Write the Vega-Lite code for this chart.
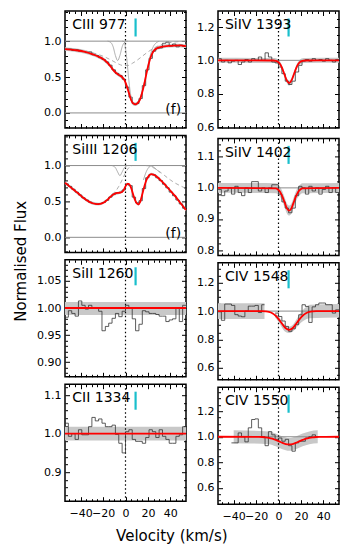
{
"$schema":"https://vega.github.io/schema/vega-lite/v6.json",
"padding":{"left":14,"top":9,"right":5,"bottom":5},
"config":{"view":{"stroke":"black","strokeWidth":1.5},"axis":{"domain":false,"grid":false,"labelFont":"DejaVu Sans","labelFontSize":11,"labelColor":"black","tickColor":"black","tickWidth":1,"labelOverlap":false,"labelFlush":false,"minExtent":0,"maxExtent":0}},
"datasets":{
"hist":[
{"p":"c3","v":-54,"y":0.885},{"p":"c3","v":-51,"y":0.89},{"p":"c3","v":-48,"y":0.87},{"p":"c3","v":-45,"y":0.88},{"p":"c3","v":-42,"y":0.86},{"p":"c3","v":-39,"y":0.855},{"p":"c3","v":-36,"y":0.84},{"p":"c3","v":-33,"y":0.85},{"p":"c3","v":-30,"y":0.81},{"p":"c3","v":-27,"y":0.8},{"p":"c3","v":-24,"y":0.77},{"p":"c3","v":-21,"y":0.745},{"p":"c3","v":-18,"y":0.71},{"p":"c3","v":-15,"y":0.665},{"p":"c3","v":-12,"y":0.6},{"p":"c3","v":-9,"y":0.55},{"p":"c3","v":-6,"y":0.52},{"p":"c3","v":-3,"y":0.47},{"p":"c3","v":0,"y":0.36},{"p":"c3","v":3,"y":0.22},{"p":"c3","v":6,"y":0.13},{"p":"c3","v":9,"y":0.13},{"p":"c3","v":12,"y":0.2},{"p":"c3","v":15,"y":0.38},{"p":"c3","v":18,"y":0.6},{"p":"c3","v":21,"y":0.76},{"p":"c3","v":24,"y":0.86},{"p":"c3","v":27,"y":0.9},{"p":"c3","v":30,"y":0.905},{"p":"c3","v":33,"y":0.97},{"p":"c3","v":36,"y":0.985},{"p":"c3","v":39,"y":0.93},{"p":"c3","v":42,"y":0.96},{"p":"c3","v":45,"y":0.92},{"p":"c3","v":48,"y":0.945},{"p":"c3","v":51,"y":0.925},{"p":"c3","v":54,"y":0.925},
{"p":"s4a","v":-54,"y":1.01},{"p":"s4a","v":-51,"y":0.99},{"p":"s4a","v":-48,"y":1.0},{"p":"s4a","v":-45,"y":0.985},{"p":"s4a","v":-42,"y":0.995},{"p":"s4a","v":-39,"y":1.0},{"p":"s4a","v":-36,"y":0.975},{"p":"s4a","v":-33,"y":0.99},{"p":"s4a","v":-30,"y":1.005},{"p":"s4a","v":-27,"y":0.99},{"p":"s4a","v":-24,"y":1.01},{"p":"s4a","v":-21,"y":1.0},{"p":"s4a","v":-18,"y":1.02},{"p":"s4a","v":-15,"y":1.0},{"p":"s4a","v":-12,"y":1.045},{"p":"s4a","v":-9,"y":1.02},{"p":"s4a","v":-6,"y":0.99},{"p":"s4a","v":-3,"y":0.985},{"p":"s4a","v":0,"y":0.96},{"p":"s4a","v":3,"y":0.92},{"p":"s4a","v":6,"y":0.875},{"p":"s4a","v":9,"y":0.855},{"p":"s4a","v":12,"y":0.875},{"p":"s4a","v":15,"y":0.93},{"p":"s4a","v":18,"y":0.97},{"p":"s4a","v":21,"y":0.995},{"p":"s4a","v":24,"y":1.005},{"p":"s4a","v":27,"y":0.995},{"p":"s4a","v":30,"y":1.01},{"p":"s4a","v":33,"y":1.0},{"p":"s4a","v":36,"y":1.005},{"p":"s4a","v":39,"y":0.995},{"p":"s4a","v":42,"y":1.01},{"p":"s4a","v":45,"y":1.0},{"p":"s4a","v":48,"y":0.99},{"p":"s4a","v":51,"y":1.005},{"p":"s4a","v":54,"y":1.005},
{"p":"s3","v":-54,"y":0.745},{"p":"s3","v":-51,"y":0.71},{"p":"s3","v":-48,"y":0.67},{"p":"s3","v":-45,"y":0.63},{"p":"s3","v":-42,"y":0.59},{"p":"s3","v":-39,"y":0.55},{"p":"s3","v":-36,"y":0.52},{"p":"s3","v":-33,"y":0.49},{"p":"s3","v":-30,"y":0.47},{"p":"s3","v":-27,"y":0.465},{"p":"s3","v":-24,"y":0.47},{"p":"s3","v":-21,"y":0.485},{"p":"s3","v":-18,"y":0.515},{"p":"s3","v":-15,"y":0.56},{"p":"s3","v":-12,"y":0.6},{"p":"s3","v":-9,"y":0.62},{"p":"s3","v":-6,"y":0.625},{"p":"s3","v":-3,"y":0.66},{"p":"s3","v":0,"y":0.735},{"p":"s3","v":3,"y":0.72},{"p":"s3","v":6,"y":0.56},{"p":"s3","v":9,"y":0.48},{"p":"s3","v":12,"y":0.51},{"p":"s3","v":15,"y":0.68},{"p":"s3","v":18,"y":0.83},{"p":"s3","v":21,"y":0.875},{"p":"s3","v":24,"y":0.87},{"p":"s3","v":27,"y":0.83},{"p":"s3","v":30,"y":0.79},{"p":"s3","v":33,"y":0.74},{"p":"s3","v":36,"y":0.69},{"p":"s3","v":39,"y":0.63},{"p":"s3","v":42,"y":0.58},{"p":"s3","v":45,"y":0.52},{"p":"s3","v":48,"y":0.465},{"p":"s3","v":51,"y":0.405},{"p":"s3","v":54,"y":0.405},
{"p":"s4b","v":-54,"y":0.995},{"p":"s4b","v":-51,"y":0.975},{"p":"s4b","v":-48,"y":0.99},{"p":"s4b","v":-45,"y":1.0},{"p":"s4b","v":-42,"y":0.98},{"p":"s4b","v":-39,"y":1.005},{"p":"s4b","v":-36,"y":0.985},{"p":"s4b","v":-33,"y":0.975},{"p":"s4b","v":-30,"y":1.0},{"p":"s4b","v":-27,"y":0.985},{"p":"s4b","v":-24,"y":1.02},{"p":"s4b","v":-21,"y":1.02},{"p":"s4b","v":-18,"y":0.99},{"p":"s4b","v":-15,"y":1.0},{"p":"s4b","v":-12,"y":0.985},{"p":"s4b","v":-9,"y":1.0},{"p":"s4b","v":-6,"y":1.01},{"p":"s4b","v":-3,"y":1.01},{"p":"s4b","v":0,"y":0.98},{"p":"s4b","v":3,"y":0.955},{"p":"s4b","v":6,"y":0.935},{"p":"s4b","v":9,"y":0.92},{"p":"s4b","v":12,"y":0.935},{"p":"s4b","v":15,"y":0.975},{"p":"s4b","v":18,"y":1.005},{"p":"s4b","v":21,"y":1.0},{"p":"s4b","v":24,"y":0.98},{"p":"s4b","v":27,"y":1.005},{"p":"s4b","v":30,"y":0.99},{"p":"s4b","v":33,"y":1.0},{"p":"s4b","v":36,"y":0.98},{"p":"s4b","v":39,"y":0.995},{"p":"s4b","v":42,"y":1.005},{"p":"s4b","v":45,"y":0.985},{"p":"s4b","v":48,"y":1.0},{"p":"s4b","v":51,"y":0.985},{"p":"s4b","v":54,"y":0.985},
{"p":"s2","v":-54,"y":0.983},{"p":"s2","v":-51,"y":0.995},{"p":"s2","v":-48,"y":0.99},{"p":"s2","v":-45,"y":0.985},{"p":"s2","v":-42,"y":1.013},{"p":"s2","v":-39,"y":1.005},{"p":"s2","v":-36,"y":0.998},{"p":"s2","v":-33,"y":1.005},{"p":"s2","v":-30,"y":1.0},{"p":"s2","v":-27,"y":1.0},{"p":"s2","v":-24,"y":0.994},{"p":"s2","v":-21,"y":0.958},{"p":"s2","v":-18,"y":0.966},{"p":"s2","v":-15,"y":0.972},{"p":"s2","v":-12,"y":0.981},{"p":"s2","v":-9,"y":0.99},{"p":"s2","v":-6,"y":0.984},{"p":"s2","v":-3,"y":0.994},{"p":"s2","v":0,"y":1.005},{"p":"s2","v":3,"y":1.0},{"p":"s2","v":6,"y":0.98},{"p":"s2","v":9,"y":0.958},{"p":"s2","v":12,"y":0.97},{"p":"s2","v":15,"y":0.995},{"p":"s2","v":18,"y":0.993},{"p":"s2","v":21,"y":0.99},{"p":"s2","v":24,"y":0.99},{"p":"s2","v":27,"y":0.988},{"p":"s2","v":30,"y":0.985},{"p":"s2","v":33,"y":0.985},{"p":"s2","v":36,"y":0.975},{"p":"s2","v":39,"y":0.978},{"p":"s2","v":42,"y":0.98},{"p":"s2","v":45,"y":1.0},{"p":"s2","v":48,"y":0.975},{"p":"s2","v":51,"y":1.005},{"p":"s2","v":54,"y":1.005},
{"p":"c2","v":-54,"y":1.027},{"p":"c2","v":-51,"y":0.993},{"p":"c2","v":-48,"y":1.0},{"p":"c2","v":-45,"y":0.985},{"p":"c2","v":-42,"y":1.01},{"p":"c2","v":-39,"y":0.997},{"p":"c2","v":-36,"y":0.997},{"p":"c2","v":-33,"y":1.018},{"p":"c2","v":-30,"y":1.042},{"p":"c2","v":-27,"y":1.033},{"p":"c2","v":-24,"y":1.038},{"p":"c2","v":-21,"y":1.027},{"p":"c2","v":-18,"y":1.018},{"p":"c2","v":-15,"y":1.018},{"p":"c2","v":-12,"y":1.022},{"p":"c2","v":-9,"y":0.998},{"p":"c2","v":-6,"y":0.975},{"p":"c2","v":-3,"y":0.95},{"p":"c2","v":0,"y":1.005},{"p":"c2","v":3,"y":1.01},{"p":"c2","v":6,"y":0.985},{"p":"c2","v":9,"y":0.98},{"p":"c2","v":12,"y":0.98},{"p":"c2","v":15,"y":0.975},{"p":"c2","v":18,"y":0.99},{"p":"c2","v":21,"y":1.01},{"p":"c2","v":24,"y":1.005},{"p":"c2","v":27,"y":0.99},{"p":"c2","v":30,"y":1.01},{"p":"c2","v":33,"y":0.993},{"p":"c2","v":36,"y":0.985},{"p":"c2","v":39,"y":0.975},{"p":"c2","v":42,"y":0.975},{"p":"c2","v":45,"y":0.993},{"p":"c2","v":48,"y":0.997},{"p":"c2","v":51,"y":1.018},{"p":"c2","v":54,"y":1.018},
{"p":"c4a","g":1,"v":-54,"y":0.995},{"p":"c4a","g":1,"v":-51,"y":0.935},{"p":"c4a","g":1,"v":-48,"y":1.05},{"p":"c4a","g":1,"v":-45,"y":1.05},{"p":"c4a","g":1,"v":-42,"y":1.04},{"p":"c4a","g":1,"v":-39,"y":0.975},{"p":"c4a","g":1,"v":-36,"y":0.965},{"p":"c4a","g":1,"v":-33,"y":0.96},{"p":"c4a","g":1,"v":-30,"y":1.0},{"p":"c4a","g":1,"v":-27,"y":1.035},{"p":"c4a","g":1,"v":-24,"y":1.035},{"p":"c4a","g":1,"v":-21,"y":1.04},{"p":"c4a","g":1,"v":-18,"y":0.99},{"p":"c4a","g":1,"v":-15,"y":1.045},{"p":"c4a","g":1,"v":-12.5,"y":1.045},
{"p":"c4a","g":2,"v":-3,"y":0.986},{"p":"c4a","g":2,"v":0,"y":0.962},{"p":"c4a","g":2,"v":3,"y":0.93},{"p":"c4a","g":2,"v":6,"y":0.892},{"p":"c4a","g":2,"v":9,"y":0.857},{"p":"c4a","g":2,"v":12,"y":0.875},{"p":"c4a","g":2,"v":15,"y":0.904},{"p":"c4a","g":2,"v":18,"y":0.974},{"p":"c4a","g":2,"v":21,"y":1.045},{"p":"c4a","g":2,"v":24,"y":1.033},{"p":"c4a","g":2,"v":27,"y":0.92},{"p":"c4a","g":2,"v":30,"y":1.03},{"p":"c4a","g":2,"v":33,"y":1.045},{"p":"c4a","g":2,"v":36,"y":1.057},{"p":"c4a","g":2,"v":39,"y":1.057},{"p":"c4a","g":2,"v":42,"y":1.045},{"p":"c4a","g":2,"v":45,"y":1.045},{"p":"c4a","g":2,"v":48,"y":0.986},{"p":"c4a","g":2,"v":51,"y":1.009},{"p":"c4a","g":2,"v":54,"y":1.009},
{"p":"c4b","v":-42,"y":0.952},{"p":"c4b","v":-39,"y":0.952},{"p":"c4b","v":-36,"y":1.03},{"p":"c4b","v":-33,"y":1.0},{"p":"c4b","v":-30,"y":0.96},{"p":"c4b","v":-27,"y":1.07},{"p":"c4b","v":-24,"y":1.135},{"p":"c4b","v":-21,"y":1.14},{"p":"c4b","v":-18,"y":1.07},{"p":"c4b","v":-15,"y":1.0},{"p":"c4b","v":-12,"y":0.93},{"p":"c4b","v":-9,"y":1.04},{"p":"c4b","v":-6,"y":1.015},{"p":"c4b","v":-3,"y":0.98},{"p":"c4b","v":0,"y":0.99},{"p":"c4b","v":3,"y":0.965},{"p":"c4b","v":6,"y":0.98},{"p":"c4b","v":9,"y":0.93},{"p":"c4b","v":12,"y":0.887},{"p":"c4b","v":15,"y":0.952},{"p":"c4b","v":18,"y":0.965},{"p":"c4b","v":21,"y":0.965},{"p":"c4b","v":24,"y":0.99},{"p":"c4b","v":27,"y":1.0},{"p":"c4b","v":30,"y":1.015},{"p":"c4b","v":33,"y":1.0},{"p":"c4b","v":35,"y":1.0}
],
"model":[
{"p":"c3","v":-54,"y":0.89},{"p":"c3","v":-45,"y":0.875},{"p":"c3","v":-36,"y":0.85},{"p":"c3","v":-30,"y":0.82},{"p":"c3","v":-25,"y":0.79},{"p":"c3","v":-20,"y":0.75},{"p":"c3","v":-15,"y":0.68},{"p":"c3","v":-12,"y":0.62},{"p":"c3","v":-9,"y":0.565},{"p":"c3","v":-6,"y":0.53},{"p":"c3","v":-3,"y":0.5},{"p":"c3","v":-1,"y":0.46},{"p":"c3","v":1,"y":0.38},{"p":"c3","v":3,"y":0.28},{"p":"c3","v":5,"y":0.18},{"p":"c3","v":7,"y":0.13},{"p":"c3","v":9,"y":0.12},{"p":"c3","v":11,"y":0.14},{"p":"c3","v":13,"y":0.19},{"p":"c3","v":15,"y":0.29},{"p":"c3","v":17,"y":0.42},{"p":"c3","v":19,"y":0.57},{"p":"c3","v":21,"y":0.7},{"p":"c3","v":23,"y":0.8},{"p":"c3","v":25,"y":0.86},{"p":"c3","v":28,"y":0.9},{"p":"c3","v":32,"y":0.92},{"p":"c3","v":40,"y":0.935},{"p":"c3","v":48,"y":0.94},{"p":"c3","v":54,"y":0.93},
{"p":"s4a","v":-54,"y":1.0},{"p":"s4a","v":-4.5,"y":0.999},{"p":"s4a","v":-2.5,"y":0.997},{"p":"s4a","v":-0.5,"y":0.991},{"p":"s4a","v":1.5,"y":0.976},{"p":"s4a","v":3.5,"y":0.949},{"p":"s4a","v":5.5,"y":0.912},{"p":"s4a","v":7.5,"y":0.878},{"p":"s4a","v":9.5,"y":0.864},{"p":"s4a","v":11.5,"y":0.878},{"p":"s4a","v":13.5,"y":0.912},{"p":"s4a","v":15.5,"y":0.949},{"p":"s4a","v":17.5,"y":0.976},{"p":"s4a","v":19.5,"y":0.991},{"p":"s4a","v":21.5,"y":0.997},{"p":"s4a","v":23.5,"y":0.999},{"p":"s4a","v":54,"y":1.0},
{"p":"s3","v":-54,"y":0.76},{"p":"s3","v":-50,"y":0.71},{"p":"s3","v":-46,"y":0.66},{"p":"s3","v":-42,"y":0.61},{"p":"s3","v":-38,"y":0.555},{"p":"s3","v":-34,"y":0.51},{"p":"s3","v":-30,"y":0.478},{"p":"s3","v":-27,"y":0.466},{"p":"s3","v":-24,"y":0.463},{"p":"s3","v":-21,"y":0.472},{"p":"s3","v":-18,"y":0.5},{"p":"s3","v":-15,"y":0.54},{"p":"s3","v":-12,"y":0.585},{"p":"s3","v":-9,"y":0.613},{"p":"s3","v":-6,"y":0.62},{"p":"s3","v":-4,"y":0.625},{"p":"s3","v":-2,"y":0.65},{"p":"s3","v":0,"y":0.71},{"p":"s3","v":1.5,"y":0.745},{"p":"s3","v":3,"y":0.745},{"p":"s3","v":4.5,"y":0.71},{"p":"s3","v":6,"y":0.64},{"p":"s3","v":8,"y":0.54},{"p":"s3","v":10,"y":0.475},{"p":"s3","v":11.5,"y":0.46},{"p":"s3","v":13,"y":0.49},{"p":"s3","v":15,"y":0.6},{"p":"s3","v":17,"y":0.72},{"p":"s3","v":19,"y":0.81},{"p":"s3","v":21,"y":0.86},{"p":"s3","v":23,"y":0.88},{"p":"s3","v":25,"y":0.875},{"p":"s3","v":28,"y":0.845},{"p":"s3","v":32,"y":0.785},{"p":"s3","v":36,"y":0.72},{"p":"s3","v":40,"y":0.65},{"p":"s3","v":44,"y":0.58},{"p":"s3","v":48,"y":0.5},{"p":"s3","v":51,"y":0.44},{"p":"s3","v":54,"y":0.38},
{"p":"s4b","v":-54,"y":1.0},{"p":"s4b","v":-2.5,"y":0.9985},{"p":"s4b","v":-0.5,"y":0.995},{"p":"s4b","v":1.5,"y":0.987},{"p":"s4b","v":3.5,"y":0.972},{"p":"s4b","v":5.5,"y":0.953},{"p":"s4b","v":7.5,"y":0.934},{"p":"s4b","v":9.5,"y":0.927},{"p":"s4b","v":11.5,"y":0.934},{"p":"s4b","v":13.5,"y":0.953},{"p":"s4b","v":15.5,"y":0.972},{"p":"s4b","v":17.5,"y":0.987},{"p":"s4b","v":19.5,"y":0.995},{"p":"s4b","v":21.5,"y":0.9985},{"p":"s4b","v":54,"y":1.0},
{"p":"s2","v":-54,"y":1.0},{"p":"s2","v":54,"y":1.0},
{"p":"c2","v":-54,"y":1.0},{"p":"c2","v":54,"y":1.0},
{"p":"c4a","v":-54,"y":1.0},{"p":"c4a","v":-14.5,"y":1.0},{"p":"c4a","v":-11.5,"y":0.998},{"p":"c4a","v":-8.5,"y":0.994},{"p":"c4a","v":-5.5,"y":0.985},{"p":"c4a","v":-2.5,"y":0.967},{"p":"c4a","v":0.5,"y":0.94},{"p":"c4a","v":3.5,"y":0.907},{"p":"c4a","v":6.5,"y":0.879},{"p":"c4a","v":9.5,"y":0.868},{"p":"c4a","v":12.5,"y":0.879},{"p":"c4a","v":15.5,"y":0.907},{"p":"c4a","v":18.5,"y":0.94},{"p":"c4a","v":21.5,"y":0.967},{"p":"c4a","v":24.5,"y":0.985},{"p":"c4a","v":27.5,"y":0.994},{"p":"c4a","v":30.5,"y":0.998},{"p":"c4a","v":33.5,"y":1.0},{"p":"c4a","v":54,"y":1.0},
{"p":"c4b","v":-54,"y":1.0},{"p":"c4b","v":-17.5,"y":0.999},{"p":"c4b","v":-14.5,"y":0.998},{"p":"c4b","v":-11.5,"y":0.996},{"p":"c4b","v":-8.5,"y":0.992},{"p":"c4b","v":-5.5,"y":0.985},{"p":"c4b","v":-2.5,"y":0.975},{"p":"c4b","v":0.5,"y":0.964},{"p":"c4b","v":3.5,"y":0.952},{"p":"c4b","v":6.5,"y":0.943},{"p":"c4b","v":9.5,"y":0.94},{"p":"c4b","v":12.5,"y":0.943},{"p":"c4b","v":15.5,"y":0.952},{"p":"c4b","v":18.5,"y":0.964},{"p":"c4b","v":21.5,"y":0.975},{"p":"c4b","v":24.5,"y":0.985},{"p":"c4b","v":27.5,"y":0.992},{"p":"c4b","v":30.5,"y":0.996},{"p":"c4b","v":33.5,"y":0.998},{"p":"c4b","v":36.5,"y":0.999},{"p":"c4b","v":54,"y":1.0}
],
"band":[
{"p":"c3","v":-54,"lo":0.865,"hi":0.915},{"p":"c3","v":-45,"lo":0.85,"hi":0.9},{"p":"c3","v":-36,"lo":0.825,"hi":0.875},{"p":"c3","v":-30,"lo":0.795,"hi":0.845},{"p":"c3","v":-25,"lo":0.765,"hi":0.815},{"p":"c3","v":-20,"lo":0.725,"hi":0.775},{"p":"c3","v":-15,"lo":0.655,"hi":0.705},{"p":"c3","v":-12,"lo":0.595,"hi":0.645},{"p":"c3","v":-9,"lo":0.54,"hi":0.59},{"p":"c3","v":-6,"lo":0.505,"hi":0.555},{"p":"c3","v":-3,"lo":0.475,"hi":0.525},{"p":"c3","v":-1,"lo":0.435,"hi":0.485},{"p":"c3","v":1,"lo":0.355,"hi":0.405},{"p":"c3","v":3,"lo":0.255,"hi":0.305},{"p":"c3","v":5,"lo":0.155,"hi":0.205},{"p":"c3","v":7,"lo":0.105,"hi":0.155},{"p":"c3","v":9,"lo":0.095,"hi":0.145},{"p":"c3","v":11,"lo":0.115,"hi":0.165},{"p":"c3","v":13,"lo":0.165,"hi":0.215},{"p":"c3","v":15,"lo":0.265,"hi":0.315},{"p":"c3","v":17,"lo":0.395,"hi":0.445},{"p":"c3","v":19,"lo":0.545,"hi":0.595},{"p":"c3","v":21,"lo":0.675,"hi":0.725},{"p":"c3","v":23,"lo":0.775,"hi":0.825},{"p":"c3","v":25,"lo":0.835,"hi":0.885},{"p":"c3","v":28,"lo":0.875,"hi":0.925},{"p":"c3","v":32,"lo":0.895,"hi":0.945},{"p":"c3","v":40,"lo":0.91,"hi":0.96},{"p":"c3","v":48,"lo":0.915,"hi":0.965},{"p":"c3","v":54,"lo":0.905,"hi":0.955},
{"p":"s4a","v":-54,"lo":0.985,"hi":1.015},{"p":"s4a","v":-4.5,"lo":0.984,"hi":1.014},{"p":"s4a","v":-2.5,"lo":0.982,"hi":1.012},{"p":"s4a","v":-0.5,"lo":0.976,"hi":1.006},{"p":"s4a","v":1.5,"lo":0.961,"hi":0.991},{"p":"s4a","v":3.5,"lo":0.934,"hi":0.964},{"p":"s4a","v":5.5,"lo":0.897,"hi":0.927},{"p":"s4a","v":7.5,"lo":0.863,"hi":0.893},{"p":"s4a","v":9.5,"lo":0.849,"hi":0.879},{"p":"s4a","v":11.5,"lo":0.863,"hi":0.893},{"p":"s4a","v":13.5,"lo":0.897,"hi":0.927},{"p":"s4a","v":15.5,"lo":0.934,"hi":0.964},{"p":"s4a","v":17.5,"lo":0.961,"hi":0.991},{"p":"s4a","v":19.5,"lo":0.976,"hi":1.006},{"p":"s4a","v":21.5,"lo":0.982,"hi":1.012},{"p":"s4a","v":23.5,"lo":0.984,"hi":1.014},{"p":"s4a","v":54,"lo":0.985,"hi":1.015},
{"p":"s3","v":-54,"lo":0.74,"hi":0.78},{"p":"s3","v":-46,"lo":0.64,"hi":0.68},{"p":"s3","v":-38,"lo":0.535,"hi":0.575},{"p":"s3","v":-30,"lo":0.458,"hi":0.498},{"p":"s3","v":-24,"lo":0.443,"hi":0.483},{"p":"s3","v":-18,"lo":0.48,"hi":0.52},{"p":"s3","v":-12,"lo":0.565,"hi":0.605},{"p":"s3","v":-6,"lo":0.6,"hi":0.64},{"p":"s3","v":-2,"lo":0.63,"hi":0.67},{"p":"s3","v":1.5,"lo":0.725,"hi":0.765},{"p":"s3","v":4.5,"lo":0.69,"hi":0.73},{"p":"s3","v":8,"lo":0.52,"hi":0.56},{"p":"s3","v":11.5,"lo":0.44,"hi":0.48},{"p":"s3","v":15,"lo":0.58,"hi":0.62},{"p":"s3","v":19,"lo":0.79,"hi":0.83},{"p":"s3","v":23,"lo":0.86,"hi":0.9},{"p":"s3","v":28,"lo":0.825,"hi":0.865},{"p":"s3","v":36,"lo":0.7,"hi":0.74},{"p":"s3","v":44,"lo":0.56,"hi":0.6},{"p":"s3","v":54,"lo":0.36,"hi":0.4},
{"p":"s4b","v":-54,"lo":0.984,"hi":1.016},{"p":"s4b","v":-2.5,"lo":0.9825,"hi":1.0145},{"p":"s4b","v":-0.5,"lo":0.979,"hi":1.011},{"p":"s4b","v":1.5,"lo":0.971,"hi":1.003},{"p":"s4b","v":3.5,"lo":0.956,"hi":0.988},{"p":"s4b","v":5.5,"lo":0.937,"hi":0.969},{"p":"s4b","v":7.5,"lo":0.918,"hi":0.95},{"p":"s4b","v":9.5,"lo":0.911,"hi":0.943},{"p":"s4b","v":11.5,"lo":0.918,"hi":0.95},{"p":"s4b","v":13.5,"lo":0.937,"hi":0.969},{"p":"s4b","v":15.5,"lo":0.956,"hi":0.988},{"p":"s4b","v":17.5,"lo":0.971,"hi":1.003},{"p":"s4b","v":19.5,"lo":0.979,"hi":1.011},{"p":"s4b","v":21.5,"lo":0.9825,"hi":1.0145},{"p":"s4b","v":54,"lo":0.984,"hi":1.016},
{"p":"s2","v":-54,"lo":0.987,"hi":1.011},{"p":"s2","v":54,"lo":0.987,"hi":1.011},
{"p":"c2","v":-54,"lo":0.982,"hi":1.018},{"p":"c2","v":54,"lo":0.982,"hi":1.018},
{"p":"c4a","g":1,"v":-54,"lo":0.945,"hi":1.055},{"p":"c4a","g":1,"v":-12.5,"lo":0.945,"hi":1.055},
{"p":"c4a","g":2,"v":-3,"lo":0.955,"hi":0.985},{"p":"c4a","g":2,"v":0,"lo":0.925,"hi":0.965},{"p":"c4a","g":2,"v":3,"lo":0.885,"hi":0.925},{"p":"c4a","g":2,"v":6,"lo":0.855,"hi":0.9},{"p":"c4a","g":2,"v":9.5,"lo":0.845,"hi":0.89},{"p":"c4a","g":2,"v":13,"lo":0.858,"hi":0.905},{"p":"c4a","g":2,"v":16,"lo":0.885,"hi":0.94},{"p":"c4a","g":2,"v":19,"lo":0.91,"hi":0.98},{"p":"c4a","g":2,"v":22,"lo":0.93,"hi":1.01},{"p":"c4a","g":2,"v":25,"lo":0.945,"hi":1.03},{"p":"c4a","g":2,"v":28,"lo":0.95,"hi":1.045},{"p":"c4a","g":2,"v":54,"lo":0.955,"hi":1.05},
{"p":"c4b","v":-40,"lo":0.95,"hi":1.05},{"p":"c4b","v":-8.5,"lo":0.942,"hi":1.042},{"p":"c4b","v":-2.5,"lo":0.925,"hi":1.025},{"p":"c4b","v":3.5,"lo":0.902,"hi":1.002},{"p":"c4b","v":9.5,"lo":0.89,"hi":0.99},{"p":"c4b","v":15.5,"lo":0.902,"hi":1.002},{"p":"c4b","v":21.5,"lo":0.925,"hi":1.025},{"p":"c4b","v":27.5,"lo":0.942,"hi":1.042},{"p":"c4b","v":35,"lo":0.95,"hi":1.05}
],
"comps":[
{"p":"c3","c":"a","s":"solid","v":-16,"y":1.0},{"p":"c3","c":"a","s":"solid","v":-13,"y":0.98},{"p":"c3","c":"a","s":"solid","v":-11,"y":0.92},{"p":"c3","c":"a","s":"solid","v":-9,"y":0.8},{"p":"c3","c":"a","s":"solid","v":-7,"y":0.73},{"p":"c3","c":"a","s":"solid","v":-5,"y":0.8},{"p":"c3","c":"a","s":"solid","v":-3,"y":0.92},{"p":"c3","c":"a","s":"solid","v":-1,"y":0.98},{"p":"c3","c":"a","s":"solid","v":2,"y":1.0},
{"p":"c3","c":"b","s":"solid","v":-3,"y":1.0},{"p":"c3","c":"b","s":"solid","v":-1,"y":0.99},{"p":"c3","c":"b","s":"solid","v":0,"y":0.9},{"p":"c3","c":"b","s":"solid","v":1.5,"y":0.7},{"p":"c3","c":"b","s":"solid","v":3,"y":0.45},{"p":"c3","c":"b","s":"solid","v":5,"y":0.22},{"p":"c3","c":"b","s":"solid","v":7,"y":0.14},{"p":"c3","c":"b","s":"solid","v":9,"y":0.13},{"p":"c3","c":"b","s":"solid","v":11,"y":0.15},{"p":"c3","c":"b","s":"solid","v":13,"y":0.21},{"p":"c3","c":"b","s":"solid","v":15,"y":0.31},{"p":"c3","c":"b","s":"solid","v":17,"y":0.44},{"p":"c3","c":"b","s":"solid","v":19,"y":0.59},{"p":"c3","c":"b","s":"solid","v":21,"y":0.73},{"p":"c3","c":"b","s":"solid","v":23,"y":0.85},{"p":"c3","c":"b","s":"solid","v":25,"y":0.93},{"p":"c3","c":"b","s":"solid","v":27,"y":0.97},{"p":"c3","c":"b","s":"solid","v":30,"y":1.0},
{"p":"c3","c":"c","s":"dashed","v":-54,"y":0.9},{"p":"c3","c":"c","s":"dashed","v":-40,"y":0.875},{"p":"c3","c":"c","s":"dashed","v":-30,"y":0.84},{"p":"c3","c":"c","s":"dashed","v":-20,"y":0.79},{"p":"c3","c":"c","s":"dashed","v":-12,"y":0.73},{"p":"c3","c":"c","s":"dashed","v":-6,"y":0.68},{"p":"c3","c":"c","s":"dashed","v":-2,"y":0.66},{"p":"c3","c":"c","s":"dashed","v":2,"y":0.66},{"p":"c3","c":"c","s":"dashed","v":6,"y":0.69},{"p":"c3","c":"c","s":"dashed","v":10,"y":0.73},{"p":"c3","c":"c","s":"dashed","v":15,"y":0.79},{"p":"c3","c":"c","s":"dashed","v":20,"y":0.85},{"p":"c3","c":"c","s":"dashed","v":25,"y":0.9},{"p":"c3","c":"c","s":"dashed","v":30,"y":0.94},{"p":"c3","c":"c","s":"dashed","v":36,"y":0.97},{"p":"c3","c":"c","s":"dashed","v":45,"y":0.99},{"p":"c3","c":"c","s":"dashed","v":54,"y":1.0},
{"p":"s3","c":"a","s":"solid","v":-12,"y":1.0},{"p":"s3","c":"a","s":"solid","v":-9,"y":0.97},{"p":"s3","c":"a","s":"solid","v":-7,"y":0.91},{"p":"s3","c":"a","s":"solid","v":-5,"y":0.86},{"p":"s3","c":"a","s":"solid","v":-3,"y":0.91},{"p":"s3","c":"a","s":"solid","v":-1,"y":0.97},{"p":"s3","c":"a","s":"solid","v":2,"y":1.0},
{"p":"s3","c":"b","s":"dashed","v":-12,"y":0.6},{"p":"s3","c":"b","s":"dashed","v":-9,"y":0.64},{"p":"s3","c":"b","s":"dashed","v":-6,"y":0.71},{"p":"s3","c":"b","s":"dashed","v":-3,"y":0.8},{"p":"s3","c":"b","s":"dashed","v":0,"y":0.9},{"p":"s3","c":"b","s":"dashed","v":3,"y":0.97},{"p":"s3","c":"b","s":"dashed","v":6,"y":1.0},
{"p":"s3","c":"c","s":"dashed","v":18,"y":1.0},{"p":"s3","c":"c","s":"dashed","v":22,"y":0.99},{"p":"s3","c":"c","s":"dashed","v":26,"y":0.96},{"p":"s3","c":"c","s":"dashed","v":30,"y":0.92},{"p":"s3","c":"c","s":"dashed","v":35,"y":0.86},{"p":"s3","c":"c","s":"dashed","v":40,"y":0.8},{"p":"s3","c":"c","s":"dashed","v":45,"y":0.75},{"p":"s3","c":"c","s":"dashed","v":50,"y":0.71},{"p":"s3","c":"c","s":"dashed","v":54,"y":0.68},
{"p":"s3","c":"d","s":"solid","v":16,"y":0.8},{"p":"s3","c":"d","s":"solid","v":19,"y":0.93},{"p":"s3","c":"d","s":"solid","v":22,"y":0.99},{"p":"s3","c":"d","s":"solid","v":24,"y":1.0},
{"p":"s3","c":"e","s":"solid","v":22,"y":1.0},{"p":"s3","c":"e","s":"solid","v":25,"y":0.98},{"p":"s3","c":"e","s":"solid","v":28,"y":0.94},{"p":"s3","c":"e","s":"solid","v":31,"y":0.9}
],
"hlines":[{"p":"c3","y":1},{"p":"c3","y":0},{"p":"s3","y":1},{"p":"s3","y":0},{"p":"s4a","y":1},{"p":"s4b","y":1},{"p":"s2","y":1},{"p":"c4a","y":1},{"p":"c2","y":1},{"p":"c4b","y":1}],
"vlines":[{"p":"c3","v":0},{"p":"s4a","v":0},{"p":"s3","v":0},{"p":"s4b","v":0},{"p":"s2","v":0},{"p":"c4a","v":0},{"p":"c2","v":0},{"p":"c4b","v":0}],
"cyan":[{"p":"c3","v":9,"y":1.316,"y2":1.065},{"p":"s4a","v":9,"y":1.251,"y2":1.143},{"p":"s3","v":9,"y":1.316,"y2":1.065},{"p":"s4b","v":9,"y":1.135,"y2":1.077},{"p":"s2","v":9,"y":1.0752,"y2":1.0419},{"p":"c4a","v":9,"y":1.288,"y2":1.161},{"p":"c2","v":9,"y":1.1086,"y2":1.0619},{"p":"c4b","v":9,"y":1.329,"y2":1.188}],
"labels":[{"p":"c3","v":-47.5,"y":1.165,"t":"CIII 977"},{"p":"c3","v":35.5,"y":-0.01,"t":"(f)"},{"p":"s4a","v":-47.8,"y":1.186,"t":"SiIV 1393"},{"p":"s3","v":-47.5,"y":1.165,"t":"SiIII 1206"},{"p":"s3","v":35.5,"y":-0.01,"t":"(f)"},{"p":"s4b","v":-47.8,"y":1.1,"t":"SiIV 1402"},{"p":"s2","v":-47.5,"y":1.055,"t":"SiII 1260"},{"p":"c4a","v":-47.8,"y":1.212,"t":"CIV 1548"},{"p":"c2","v":-47.5,"y":1.081,"t":"CII 1334"},{"p":"c4b","v":-47.8,"y":1.245,"t":"CIV 1550"}]
},
"title":{"text":"Velocity (km/s)","orient":"bottom","anchor":"middle","font":"DejaVu Sans","fontSize":15,"fontWeight":"normal","offset":5,"dx":-7,"color":"black"},
"spacing":4,
"hconcat":[
{"spacing":3.4,"title":{"text":"Normalised Flux","orient":"left","anchor":"middle","font":"DejaVu Sans","fontSize":15,"fontWeight":"normal","offset":6,"dx":4,"color":"black"},
"vconcat":[
{"width":121,"height":117,"resolve":{"axis":{"x":"independent","y":"independent"}},"layer":[
{"data":{"name":"band"},"transform":[{"filter":"datum.p==='c3'"}],"mark":{"type":"area","color":"#c8c8c8","interpolate":"monotone"},"encoding":{"x":{"field":"v","type":"quantitative","scale":{"domain":[-54,54],"nice":false,"zero":false},"axis":null},"y":{"field":"lo","type":"quantitative","scale":{"domain":[-0.21,1.42],"nice":false,"zero":false},"axis":{"orient":"left","values":[0,0.5,1],"format":".1f","ticks":false,"labelPadding":4,"minExtent":29,"maxExtent":29,"title":null}},"y2":{"field":"hi"},"detail":{"field":"g"}}},
{"data":{"name":"hlines"},"transform":[{"filter":"datum.p==='c3'"}],"mark":{"type":"rule","color":"#8c8c8c","strokeWidth":1},"encoding":{"y":{"field":"y","type":"quantitative","axis":{"orient":"right","values":[0,0.5,1],"labels":false,"tickSize":-4.5,"title":null}}}},
{"data":{"name":"vlines"},"transform":[{"filter":"datum.p==='c3'"}],"mark":{"type":"rule","color":"black","strokeDash":[1.5,2.5],"strokeWidth":1.2},"encoding":{"x":{"field":"v","type":"quantitative","axis":{"orient":"top","values":[-40,-20,0,20,40],"labels":false,"tickSize":-4.5,"title":null}}}},
{"data":{"name":"hist"},"transform":[{"filter":"datum.p==='c3'"}],"mark":{"type":"line","interpolate":"step-after","color":"#333333","strokeWidth":0.8},"encoding":{"x":{"field":"v","type":"quantitative","axis":{"orient":"bottom","values":[-40,-20,0,20,40],"labels":false,"tickSize":-4.5,"title":null}},"y":{"field":"y","type":"quantitative","axis":{"orient":"left","values":[0,0.5,1],"labels":false,"tickSize":-4.5,"title":null}},"detail":{"field":"g"}}},
{"data":{"name":"comps"},"transform":[{"filter":"datum.p==='c3'"}],"mark":{"type":"line","color":"#999999","strokeWidth":0.8,"interpolate":"monotone"},"encoding":{"x":{"field":"v","type":"quantitative","axis":null},"y":{"field":"y","type":"quantitative","axis":null},"detail":{"field":"c"},"strokeDash":{"field":"s","type":"nominal","scale":{"domain":["solid","dashed"],"range":[[1,0],[4,3]]},"legend":null}}},
{"data":{"name":"model"},"transform":[{"filter":"datum.p==='c3'"}],"mark":{"type":"line","interpolate":"monotone","color":"#ff0000","strokeWidth":1.8},"encoding":{"x":{"field":"v","type":"quantitative","axis":{"orient":"bottom","values":[-50,-45,-35,-30,-25,-15,-10,-5,5,10,15,25,30,35,45,50],"labels":false,"tickSize":-2.5,"title":null}},"y":{"field":"y","type":"quantitative","axis":{"orient":"left","values":[-0.2,-0.1,0.1,0.2,0.3,0.4,0.6,0.7,0.8,0.9,1.1,1.2,1.3,1.4],"labels":false,"tickSize":-2.5,"title":null}}}},
{"data":{"name":"cyan"},"transform":[{"filter":"datum.p==='c3'"}],"mark":{"type":"rule","color":"#19bfcc","strokeWidth":2.2},"encoding":{"x":{"field":"v","type":"quantitative","axis":{"orient":"top","values":[-50,-45,-35,-30,-25,-15,-10,-5,5,10,15,25,30,35,45,50],"labels":false,"tickSize":-2.5,"title":null}},"y":{"field":"y","type":"quantitative","axis":{"orient":"right","values":[-0.2,-0.1,0.1,0.2,0.3,0.4,0.6,0.7,0.8,0.9,1.1,1.2,1.3,1.4],"labels":false,"tickSize":-2.5,"title":null}},"y2":{"field":"y2"}}},
{"data":{"name":"labels"},"transform":[{"filter":"datum.p==='c3'"}],"mark":{"type":"text","align":"left","baseline":"alphabetic","fontSize":14,"font":"DejaVu Sans","color":"black"},"encoding":{"x":{"field":"v","type":"quantitative","axis":null},"y":{"field":"y","type":"quantitative","axis":null},"text":{"field":"t"}}}
]},
{"width":121,"height":117,"resolve":{"axis":{"x":"independent","y":"independent"}},"layer":[
{"data":{"name":"band"},"transform":[{"filter":"datum.p==='s3'"}],"mark":{"type":"area","color":"#c8c8c8","interpolate":"monotone"},"encoding":{"x":{"field":"v","type":"quantitative","scale":{"domain":[-54,54],"nice":false,"zero":false},"axis":null},"y":{"field":"lo","type":"quantitative","scale":{"domain":[-0.21,1.42],"nice":false,"zero":false},"axis":{"orient":"left","values":[0,0.5,1],"format":".1f","ticks":false,"labelPadding":4,"minExtent":29,"maxExtent":29,"title":null}},"y2":{"field":"hi"},"detail":{"field":"g"}}},
{"data":{"name":"hlines"},"transform":[{"filter":"datum.p==='s3'"}],"mark":{"type":"rule","color":"#8c8c8c","strokeWidth":1},"encoding":{"y":{"field":"y","type":"quantitative","axis":{"orient":"right","values":[0,0.5,1],"labels":false,"tickSize":-4.5,"title":null}}}},
{"data":{"name":"vlines"},"transform":[{"filter":"datum.p==='s3'"}],"mark":{"type":"rule","color":"black","strokeDash":[1.5,2.5],"strokeWidth":1.2},"encoding":{"x":{"field":"v","type":"quantitative","axis":{"orient":"top","values":[-40,-20,0,20,40],"labels":false,"tickSize":-4.5,"title":null}}}},
{"data":{"name":"hist"},"transform":[{"filter":"datum.p==='s3'"}],"mark":{"type":"line","interpolate":"step-after","color":"#333333","strokeWidth":0.8},"encoding":{"x":{"field":"v","type":"quantitative","axis":{"orient":"bottom","values":[-40,-20,0,20,40],"labels":false,"tickSize":-4.5,"title":null}},"y":{"field":"y","type":"quantitative","axis":{"orient":"left","values":[0,0.5,1],"labels":false,"tickSize":-4.5,"title":null}},"detail":{"field":"g"}}},
{"data":{"name":"comps"},"transform":[{"filter":"datum.p==='s3'"}],"mark":{"type":"line","color":"#999999","strokeWidth":0.8,"interpolate":"monotone"},"encoding":{"x":{"field":"v","type":"quantitative","axis":null},"y":{"field":"y","type":"quantitative","axis":null},"detail":{"field":"c"},"strokeDash":{"field":"s","type":"nominal","scale":{"domain":["solid","dashed"],"range":[[1,0],[4,3]]},"legend":null}}},
{"data":{"name":"model"},"transform":[{"filter":"datum.p==='s3'"}],"mark":{"type":"line","interpolate":"monotone","color":"#ff0000","strokeWidth":1.8},"encoding":{"x":{"field":"v","type":"quantitative","axis":{"orient":"bottom","values":[-50,-45,-35,-30,-25,-15,-10,-5,5,10,15,25,30,35,45,50],"labels":false,"tickSize":-2.5,"title":null}},"y":{"field":"y","type":"quantitative","axis":{"orient":"left","values":[-0.2,-0.1,0.1,0.2,0.3,0.4,0.6,0.7,0.8,0.9,1.1,1.2,1.3,1.4],"labels":false,"tickSize":-2.5,"title":null}}}},
{"data":{"name":"cyan"},"transform":[{"filter":"datum.p==='s3'"}],"mark":{"type":"rule","color":"#19bfcc","strokeWidth":2.2},"encoding":{"x":{"field":"v","type":"quantitative","axis":{"orient":"top","values":[-50,-45,-35,-30,-25,-15,-10,-5,5,10,15,25,30,35,45,50],"labels":false,"tickSize":-2.5,"title":null}},"y":{"field":"y","type":"quantitative","axis":{"orient":"right","values":[-0.2,-0.1,0.1,0.2,0.3,0.4,0.6,0.7,0.8,0.9,1.1,1.2,1.3,1.4],"labels":false,"tickSize":-2.5,"title":null}},"y2":{"field":"y2"}}},
{"data":{"name":"labels"},"transform":[{"filter":"datum.p==='s3'"}],"mark":{"type":"text","align":"left","baseline":"alphabetic","fontSize":14,"font":"DejaVu Sans","color":"black"},"encoding":{"x":{"field":"v","type":"quantitative","axis":null},"y":{"field":"y","type":"quantitative","axis":null},"text":{"field":"t"}}}
]},
{"width":121,"height":117,"resolve":{"axis":{"x":"independent","y":"independent"}},"layer":[
{"data":{"name":"band"},"transform":[{"filter":"datum.p==='s2'"}],"mark":{"type":"area","color":"#c8c8c8","interpolate":"monotone"},"encoding":{"x":{"field":"v","type":"quantitative","scale":{"domain":[-54,54],"nice":false,"zero":false},"axis":null},"y":{"field":"lo","type":"quantitative","scale":{"domain":[0.873,1.089],"nice":false,"zero":false},"axis":{"orient":"left","values":[0.9,0.95,1,1.05],"format":".2f","ticks":false,"labelPadding":4,"minExtent":29,"maxExtent":29,"title":null}},"y2":{"field":"hi"},"detail":{"field":"g"}}},
{"data":{"name":"hlines"},"transform":[{"filter":"datum.p==='s2'"}],"mark":{"type":"rule","color":"#8c8c8c","strokeWidth":1},"encoding":{"y":{"field":"y","type":"quantitative","axis":{"orient":"right","values":[0.9,0.95,1,1.05],"labels":false,"tickSize":-4.5,"title":null}}}},
{"data":{"name":"vlines"},"transform":[{"filter":"datum.p==='s2'"}],"mark":{"type":"rule","color":"black","strokeDash":[1.5,2.5],"strokeWidth":1.2},"encoding":{"x":{"field":"v","type":"quantitative","axis":{"orient":"top","values":[-40,-20,0,20,40],"labels":false,"tickSize":-4.5,"title":null}}}},
{"data":{"name":"hist"},"transform":[{"filter":"datum.p==='s2'"}],"mark":{"type":"line","interpolate":"step-after","color":"#333333","strokeWidth":0.8},"encoding":{"x":{"field":"v","type":"quantitative","axis":{"orient":"bottom","values":[-40,-20,0,20,40],"labels":false,"tickSize":-4.5,"title":null}},"y":{"field":"y","type":"quantitative","axis":{"orient":"left","values":[0.9,0.95,1,1.05],"labels":false,"tickSize":-4.5,"title":null}},"detail":{"field":"g"}}},
{"data":{"name":"model"},"transform":[{"filter":"datum.p==='s2'"}],"mark":{"type":"line","interpolate":"monotone","color":"#ff0000","strokeWidth":1.8},"encoding":{"x":{"field":"v","type":"quantitative","axis":{"orient":"bottom","values":[-50,-45,-35,-30,-25,-15,-10,-5,5,10,15,25,30,35,45,50],"labels":false,"tickSize":-2.5,"title":null}},"y":{"field":"y","type":"quantitative","axis":{"orient":"left","values":[0.88,0.89,0.91,0.92,0.93,0.94,0.96,0.97,0.98,0.99,1.01,1.02,1.03,1.04,1.06,1.07,1.08],"labels":false,"tickSize":-2.5,"title":null}}}},
{"data":{"name":"cyan"},"transform":[{"filter":"datum.p==='s2'"}],"mark":{"type":"rule","color":"#19bfcc","strokeWidth":2.2},"encoding":{"x":{"field":"v","type":"quantitative","axis":{"orient":"top","values":[-50,-45,-35,-30,-25,-15,-10,-5,5,10,15,25,30,35,45,50],"labels":false,"tickSize":-2.5,"title":null}},"y":{"field":"y","type":"quantitative","axis":{"orient":"right","values":[0.88,0.89,0.91,0.92,0.93,0.94,0.96,0.97,0.98,0.99,1.01,1.02,1.03,1.04,1.06,1.07,1.08],"labels":false,"tickSize":-2.5,"title":null}},"y2":{"field":"y2"}}},
{"data":{"name":"labels"},"transform":[{"filter":"datum.p==='s2'"}],"mark":{"type":"text","align":"left","baseline":"alphabetic","fontSize":14,"font":"DejaVu Sans","color":"black"},"encoding":{"x":{"field":"v","type":"quantitative","axis":null},"y":{"field":"y","type":"quantitative","axis":null},"text":{"field":"t"}}}
]},
{"width":121,"height":117,"resolve":{"axis":{"x":"independent","y":"independent"}},"layer":[
{"data":{"name":"band"},"transform":[{"filter":"datum.p==='c2'"}],"mark":{"type":"area","color":"#c8c8c8","interpolate":"monotone"},"encoding":{"x":{"field":"v","type":"quantitative","scale":{"domain":[-54,54],"nice":false,"zero":false},"axis":{"orient":"bottom","values":[-40,-20,0,20,40],"ticks":false,"labelPadding":6,"minExtent":19,"maxExtent":19,"title":null}},"y":{"field":"lo","type":"quantitative","scale":{"domain":[0.825,1.128],"nice":false,"zero":false},"axis":{"orient":"left","values":[0.9,1,1.1],"format":".1f","ticks":false,"labelPadding":4,"minExtent":29,"maxExtent":29,"title":null}},"y2":{"field":"hi"},"detail":{"field":"g"}}},
{"data":{"name":"hlines"},"transform":[{"filter":"datum.p==='c2'"}],"mark":{"type":"rule","color":"#8c8c8c","strokeWidth":1},"encoding":{"y":{"field":"y","type":"quantitative","axis":{"orient":"right","values":[0.9,1,1.1],"labels":false,"tickSize":-4.5,"title":null}}}},
{"data":{"name":"vlines"},"transform":[{"filter":"datum.p==='c2'"}],"mark":{"type":"rule","color":"black","strokeDash":[1.5,2.5],"strokeWidth":1.2},"encoding":{"x":{"field":"v","type":"quantitative","axis":{"orient":"top","values":[-40,-20,0,20,40],"labels":false,"tickSize":-4.5,"title":null}}}},
{"data":{"name":"hist"},"transform":[{"filter":"datum.p==='c2'"}],"mark":{"type":"line","interpolate":"step-after","color":"#333333","strokeWidth":0.8},"encoding":{"x":{"field":"v","type":"quantitative","axis":{"orient":"bottom","values":[-40,-20,0,20,40],"labels":false,"tickSize":-4.5,"title":null}},"y":{"field":"y","type":"quantitative","axis":{"orient":"left","values":[0.9,1,1.1],"labels":false,"tickSize":-4.5,"title":null}},"detail":{"field":"g"}}},
{"data":{"name":"model"},"transform":[{"filter":"datum.p==='c2'"}],"mark":{"type":"line","interpolate":"monotone","color":"#ff0000","strokeWidth":1.8},"encoding":{"x":{"field":"v","type":"quantitative","axis":{"orient":"bottom","values":[-50,-45,-35,-30,-25,-15,-10,-5,5,10,15,25,30,35,45,50],"labels":false,"tickSize":-2.5,"title":null}},"y":{"field":"y","type":"quantitative","axis":{"orient":"left","values":[0.84,0.86,0.88,0.92,0.94,0.96,0.98,1.02,1.04,1.06,1.08,1.12],"labels":false,"tickSize":-2.5,"title":null}}}},
{"data":{"name":"cyan"},"transform":[{"filter":"datum.p==='c2'"}],"mark":{"type":"rule","color":"#19bfcc","strokeWidth":2.2},"encoding":{"x":{"field":"v","type":"quantitative","axis":{"orient":"top","values":[-50,-45,-35,-30,-25,-15,-10,-5,5,10,15,25,30,35,45,50],"labels":false,"tickSize":-2.5,"title":null}},"y":{"field":"y","type":"quantitative","axis":{"orient":"right","values":[0.84,0.86,0.88,0.92,0.94,0.96,0.98,1.02,1.04,1.06,1.08,1.12],"labels":false,"tickSize":-2.5,"title":null}},"y2":{"field":"y2"}}},
{"data":{"name":"labels"},"transform":[{"filter":"datum.p==='c2'"}],"mark":{"type":"text","align":"left","baseline":"alphabetic","fontSize":14,"font":"DejaVu Sans","color":"black"},"encoding":{"x":{"field":"v","type":"quantitative","axis":null},"y":{"field":"y","type":"quantitative","axis":null},"text":{"field":"t"}}}
]}
]},
{"spacing":3.4,"vconcat":[
{"width":121,"height":117,"resolve":{"axis":{"x":"independent","y":"independent"}},"layer":[
{"data":{"name":"band"},"transform":[{"filter":"datum.p==='s4a'"}],"mark":{"type":"area","color":"#c8c8c8","interpolate":"monotone"},"encoding":{"x":{"field":"v","type":"quantitative","scale":{"domain":[-54,54],"nice":false,"zero":false},"axis":null},"y":{"field":"lo","type":"quantitative","scale":{"domain":[0.594,1.296],"nice":false,"zero":false},"axis":{"orient":"left","values":[0.6,0.8,1,1.2],"format":".1f","ticks":false,"labelPadding":4,"minExtent":22,"maxExtent":22,"title":null}},"y2":{"field":"hi"},"detail":{"field":"g"}}},
{"data":{"name":"hlines"},"transform":[{"filter":"datum.p==='s4a'"}],"mark":{"type":"rule","color":"#8c8c8c","strokeWidth":1},"encoding":{"y":{"field":"y","type":"quantitative","axis":{"orient":"right","values":[0.6,0.8,1,1.2],"labels":false,"tickSize":-4.5,"title":null}}}},
{"data":{"name":"vlines"},"transform":[{"filter":"datum.p==='s4a'"}],"mark":{"type":"rule","color":"black","strokeDash":[1.5,2.5],"strokeWidth":1.2},"encoding":{"x":{"field":"v","type":"quantitative","axis":{"orient":"top","values":[-40,-20,0,20,40],"labels":false,"tickSize":-4.5,"title":null}}}},
{"data":{"name":"hist"},"transform":[{"filter":"datum.p==='s4a'"}],"mark":{"type":"line","interpolate":"step-after","color":"#333333","strokeWidth":0.8},"encoding":{"x":{"field":"v","type":"quantitative","axis":{"orient":"bottom","values":[-40,-20,0,20,40],"labels":false,"tickSize":-4.5,"title":null}},"y":{"field":"y","type":"quantitative","axis":{"orient":"left","values":[0.6,0.8,1,1.2],"labels":false,"tickSize":-4.5,"title":null}},"detail":{"field":"g"}}},
{"data":{"name":"model"},"transform":[{"filter":"datum.p==='s4a'"}],"mark":{"type":"line","interpolate":"monotone","color":"#ff0000","strokeWidth":1.8},"encoding":{"x":{"field":"v","type":"quantitative","axis":{"orient":"bottom","values":[-50,-45,-35,-30,-25,-15,-10,-5,5,10,15,25,30,35,45,50],"labels":false,"tickSize":-2.5,"title":null}},"y":{"field":"y","type":"quantitative","axis":{"orient":"left","values":[0.65,0.7,0.75,0.85,0.9,0.95,1.05,1.1,1.15,1.25],"labels":false,"tickSize":-2.5,"title":null}}}},
{"data":{"name":"cyan"},"transform":[{"filter":"datum.p==='s4a'"}],"mark":{"type":"rule","color":"#19bfcc","strokeWidth":2.2},"encoding":{"x":{"field":"v","type":"quantitative","axis":{"orient":"top","values":[-50,-45,-35,-30,-25,-15,-10,-5,5,10,15,25,30,35,45,50],"labels":false,"tickSize":-2.5,"title":null}},"y":{"field":"y","type":"quantitative","axis":{"orient":"right","values":[0.65,0.7,0.75,0.85,0.9,0.95,1.05,1.1,1.15,1.25],"labels":false,"tickSize":-2.5,"title":null}},"y2":{"field":"y2"}}},
{"data":{"name":"labels"},"transform":[{"filter":"datum.p==='s4a'"}],"mark":{"type":"text","align":"left","baseline":"alphabetic","fontSize":14,"font":"DejaVu Sans","color":"black"},"encoding":{"x":{"field":"v","type":"quantitative","axis":null},"y":{"field":"y","type":"quantitative","axis":null},"text":{"field":"t"}}}
]},
{"width":121,"height":117,"resolve":{"axis":{"x":"independent","y":"independent"}},"layer":[
{"data":{"name":"band"},"transform":[{"filter":"datum.p==='s4b'"}],"mark":{"type":"area","color":"#c8c8c8","interpolate":"monotone"},"encoding":{"x":{"field":"v","type":"quantitative","scale":{"domain":[-54,54],"nice":false,"zero":false},"axis":null},"y":{"field":"lo","type":"quantitative","scale":{"domain":[0.783,1.159],"nice":false,"zero":false},"axis":{"orient":"left","values":[0.8,0.9,1,1.1],"format":".1f","ticks":false,"labelPadding":4,"minExtent":22,"maxExtent":22,"title":null}},"y2":{"field":"hi"},"detail":{"field":"g"}}},
{"data":{"name":"hlines"},"transform":[{"filter":"datum.p==='s4b'"}],"mark":{"type":"rule","color":"#8c8c8c","strokeWidth":1},"encoding":{"y":{"field":"y","type":"quantitative","axis":{"orient":"right","values":[0.8,0.9,1,1.1],"labels":false,"tickSize":-4.5,"title":null}}}},
{"data":{"name":"vlines"},"transform":[{"filter":"datum.p==='s4b'"}],"mark":{"type":"rule","color":"black","strokeDash":[1.5,2.5],"strokeWidth":1.2},"encoding":{"x":{"field":"v","type":"quantitative","axis":{"orient":"top","values":[-40,-20,0,20,40],"labels":false,"tickSize":-4.5,"title":null}}}},
{"data":{"name":"hist"},"transform":[{"filter":"datum.p==='s4b'"}],"mark":{"type":"line","interpolate":"step-after","color":"#333333","strokeWidth":0.8},"encoding":{"x":{"field":"v","type":"quantitative","axis":{"orient":"bottom","values":[-40,-20,0,20,40],"labels":false,"tickSize":-4.5,"title":null}},"y":{"field":"y","type":"quantitative","axis":{"orient":"left","values":[0.8,0.9,1,1.1],"labels":false,"tickSize":-4.5,"title":null}},"detail":{"field":"g"}}},
{"data":{"name":"model"},"transform":[{"filter":"datum.p==='s4b'"}],"mark":{"type":"line","interpolate":"monotone","color":"#ff0000","strokeWidth":1.8},"encoding":{"x":{"field":"v","type":"quantitative","axis":{"orient":"bottom","values":[-50,-45,-35,-30,-25,-15,-10,-5,5,10,15,25,30,35,45,50],"labels":false,"tickSize":-2.5,"title":null}},"y":{"field":"y","type":"quantitative","axis":{"orient":"left","values":[0.82,0.84,0.86,0.88,0.92,0.94,0.96,0.98,1.02,1.04,1.06,1.08,1.12,1.14],"labels":false,"tickSize":-2.5,"title":null}}}},
{"data":{"name":"cyan"},"transform":[{"filter":"datum.p==='s4b'"}],"mark":{"type":"rule","color":"#19bfcc","strokeWidth":2.2},"encoding":{"x":{"field":"v","type":"quantitative","axis":{"orient":"top","values":[-50,-45,-35,-30,-25,-15,-10,-5,5,10,15,25,30,35,45,50],"labels":false,"tickSize":-2.5,"title":null}},"y":{"field":"y","type":"quantitative","axis":{"orient":"right","values":[0.82,0.84,0.86,0.88,0.92,0.94,0.96,0.98,1.02,1.04,1.06,1.08,1.12,1.14],"labels":false,"tickSize":-2.5,"title":null}},"y2":{"field":"y2"}}},
{"data":{"name":"labels"},"transform":[{"filter":"datum.p==='s4b'"}],"mark":{"type":"text","align":"left","baseline":"alphabetic","fontSize":14,"font":"DejaVu Sans","color":"black"},"encoding":{"x":{"field":"v","type":"quantitative","axis":null},"y":{"field":"y","type":"quantitative","axis":null},"text":{"field":"t"}}}
]},
{"width":121,"height":117,"resolve":{"axis":{"x":"independent","y":"independent"}},"layer":[
{"data":{"name":"band"},"transform":[{"filter":"datum.p==='c4a'"}],"mark":{"type":"area","color":"#c8c8c8","interpolate":"monotone"},"encoding":{"x":{"field":"v","type":"quantitative","scale":{"domain":[-54,54],"nice":false,"zero":false},"axis":null},"y":{"field":"lo","type":"quantitative","scale":{"domain":[0.515,1.341],"nice":false,"zero":false},"axis":{"orient":"left","values":[0.6,0.8,1,1.2],"format":".1f","ticks":false,"labelPadding":4,"minExtent":22,"maxExtent":22,"title":null}},"y2":{"field":"hi"},"detail":{"field":"g"}}},
{"data":{"name":"hlines"},"transform":[{"filter":"datum.p==='c4a'"}],"mark":{"type":"rule","color":"#8c8c8c","strokeWidth":1},"encoding":{"y":{"field":"y","type":"quantitative","axis":{"orient":"right","values":[0.6,0.8,1,1.2],"labels":false,"tickSize":-4.5,"title":null}}}},
{"data":{"name":"vlines"},"transform":[{"filter":"datum.p==='c4a'"}],"mark":{"type":"rule","color":"black","strokeDash":[1.5,2.5],"strokeWidth":1.2},"encoding":{"x":{"field":"v","type":"quantitative","axis":{"orient":"top","values":[-40,-20,0,20,40],"labels":false,"tickSize":-4.5,"title":null}}}},
{"data":{"name":"hist"},"transform":[{"filter":"datum.p==='c4a'"}],"mark":{"type":"line","interpolate":"step-after","color":"#333333","strokeWidth":0.8},"encoding":{"x":{"field":"v","type":"quantitative","axis":{"orient":"bottom","values":[-40,-20,0,20,40],"labels":false,"tickSize":-4.5,"title":null}},"y":{"field":"y","type":"quantitative","axis":{"orient":"left","values":[0.6,0.8,1,1.2],"labels":false,"tickSize":-4.5,"title":null}},"detail":{"field":"g"}}},
{"data":{"name":"model"},"transform":[{"filter":"datum.p==='c4a'"}],"mark":{"type":"line","interpolate":"monotone","color":"#ff0000","strokeWidth":1.8},"encoding":{"x":{"field":"v","type":"quantitative","axis":{"orient":"bottom","values":[-50,-45,-35,-30,-25,-15,-10,-5,5,10,15,25,30,35,45,50],"labels":false,"tickSize":-2.5,"title":null}},"y":{"field":"y","type":"quantitative","axis":{"orient":"left","values":[0.55,0.65,0.7,0.75,0.85,0.9,0.95,1.05,1.1,1.15,1.25,1.3],"labels":false,"tickSize":-2.5,"title":null}}}},
{"data":{"name":"cyan"},"transform":[{"filter":"datum.p==='c4a'"}],"mark":{"type":"rule","color":"#19bfcc","strokeWidth":2.2},"encoding":{"x":{"field":"v","type":"quantitative","axis":{"orient":"top","values":[-50,-45,-35,-30,-25,-15,-10,-5,5,10,15,25,30,35,45,50],"labels":false,"tickSize":-2.5,"title":null}},"y":{"field":"y","type":"quantitative","axis":{"orient":"right","values":[0.55,0.65,0.7,0.75,0.85,0.9,0.95,1.05,1.1,1.15,1.25,1.3],"labels":false,"tickSize":-2.5,"title":null}},"y2":{"field":"y2"}}},
{"data":{"name":"labels"},"transform":[{"filter":"datum.p==='c4a'"}],"mark":{"type":"text","align":"left","baseline":"alphabetic","fontSize":14,"font":"DejaVu Sans","color":"black"},"encoding":{"x":{"field":"v","type":"quantitative","axis":null},"y":{"field":"y","type":"quantitative","axis":null},"text":{"field":"t"}}}
]},
{"width":121,"height":117,"resolve":{"axis":{"x":"independent","y":"independent"}},"layer":[
{"data":{"name":"band"},"transform":[{"filter":"datum.p==='c4b'"}],"mark":{"type":"area","color":"#c8c8c8","interpolate":"monotone"},"encoding":{"x":{"field":"v","type":"quantitative","scale":{"domain":[-54,54],"nice":false,"zero":false},"axis":{"orient":"bottom","values":[-40,-20,0,20,40],"ticks":false,"labelPadding":6,"minExtent":19,"maxExtent":19,"title":null}},"y":{"field":"lo","type":"quantitative","scale":{"domain":[0.472,1.388],"nice":false,"zero":false},"axis":{"orient":"left","values":[0.6,0.8,1,1.2],"format":".1f","ticks":false,"labelPadding":4,"minExtent":22,"maxExtent":22,"title":null}},"y2":{"field":"hi"},"detail":{"field":"g"}}},
{"data":{"name":"hlines"},"transform":[{"filter":"datum.p==='c4b'"}],"mark":{"type":"rule","color":"#8c8c8c","strokeWidth":1},"encoding":{"y":{"field":"y","type":"quantitative","axis":{"orient":"right","values":[0.6,0.8,1,1.2],"labels":false,"tickSize":-4.5,"title":null}}}},
{"data":{"name":"vlines"},"transform":[{"filter":"datum.p==='c4b'"}],"mark":{"type":"rule","color":"black","strokeDash":[1.5,2.5],"strokeWidth":1.2},"encoding":{"x":{"field":"v","type":"quantitative","axis":{"orient":"top","values":[-40,-20,0,20,40],"labels":false,"tickSize":-4.5,"title":null}}}},
{"data":{"name":"hist"},"transform":[{"filter":"datum.p==='c4b'"}],"mark":{"type":"line","interpolate":"step-after","color":"#333333","strokeWidth":0.8},"encoding":{"x":{"field":"v","type":"quantitative","axis":{"orient":"bottom","values":[-40,-20,0,20,40],"labels":false,"tickSize":-4.5,"title":null}},"y":{"field":"y","type":"quantitative","axis":{"orient":"left","values":[0.6,0.8,1,1.2],"labels":false,"tickSize":-4.5,"title":null}},"detail":{"field":"g"}}},
{"data":{"name":"model"},"transform":[{"filter":"datum.p==='c4b'"}],"mark":{"type":"line","interpolate":"monotone","color":"#ff0000","strokeWidth":1.8},"encoding":{"x":{"field":"v","type":"quantitative","axis":{"orient":"bottom","values":[-50,-45,-35,-30,-25,-15,-10,-5,5,10,15,25,30,35,45,50],"labels":false,"tickSize":-2.5,"title":null}},"y":{"field":"y","type":"quantitative","axis":{"orient":"left","values":[0.5,0.55,0.65,0.7,0.75,0.85,0.9,0.95,1.05,1.1,1.15,1.25,1.3,1.35],"labels":false,"tickSize":-2.5,"title":null}}}},
{"data":{"name":"cyan"},"transform":[{"filter":"datum.p==='c4b'"}],"mark":{"type":"rule","color":"#19bfcc","strokeWidth":2.2},"encoding":{"x":{"field":"v","type":"quantitative","axis":{"orient":"top","values":[-50,-45,-35,-30,-25,-15,-10,-5,5,10,15,25,30,35,45,50],"labels":false,"tickSize":-2.5,"title":null}},"y":{"field":"y","type":"quantitative","axis":{"orient":"right","values":[0.5,0.55,0.65,0.7,0.75,0.85,0.9,0.95,1.05,1.1,1.15,1.25,1.3,1.35],"labels":false,"tickSize":-2.5,"title":null}},"y2":{"field":"y2"}}},
{"data":{"name":"labels"},"transform":[{"filter":"datum.p==='c4b'"}],"mark":{"type":"text","align":"left","baseline":"alphabetic","fontSize":14,"font":"DejaVu Sans","color":"black"},"encoding":{"x":{"field":"v","type":"quantitative","axis":null},"y":{"field":"y","type":"quantitative","axis":null},"text":{"field":"t"}}}
]}
]}
]
}
